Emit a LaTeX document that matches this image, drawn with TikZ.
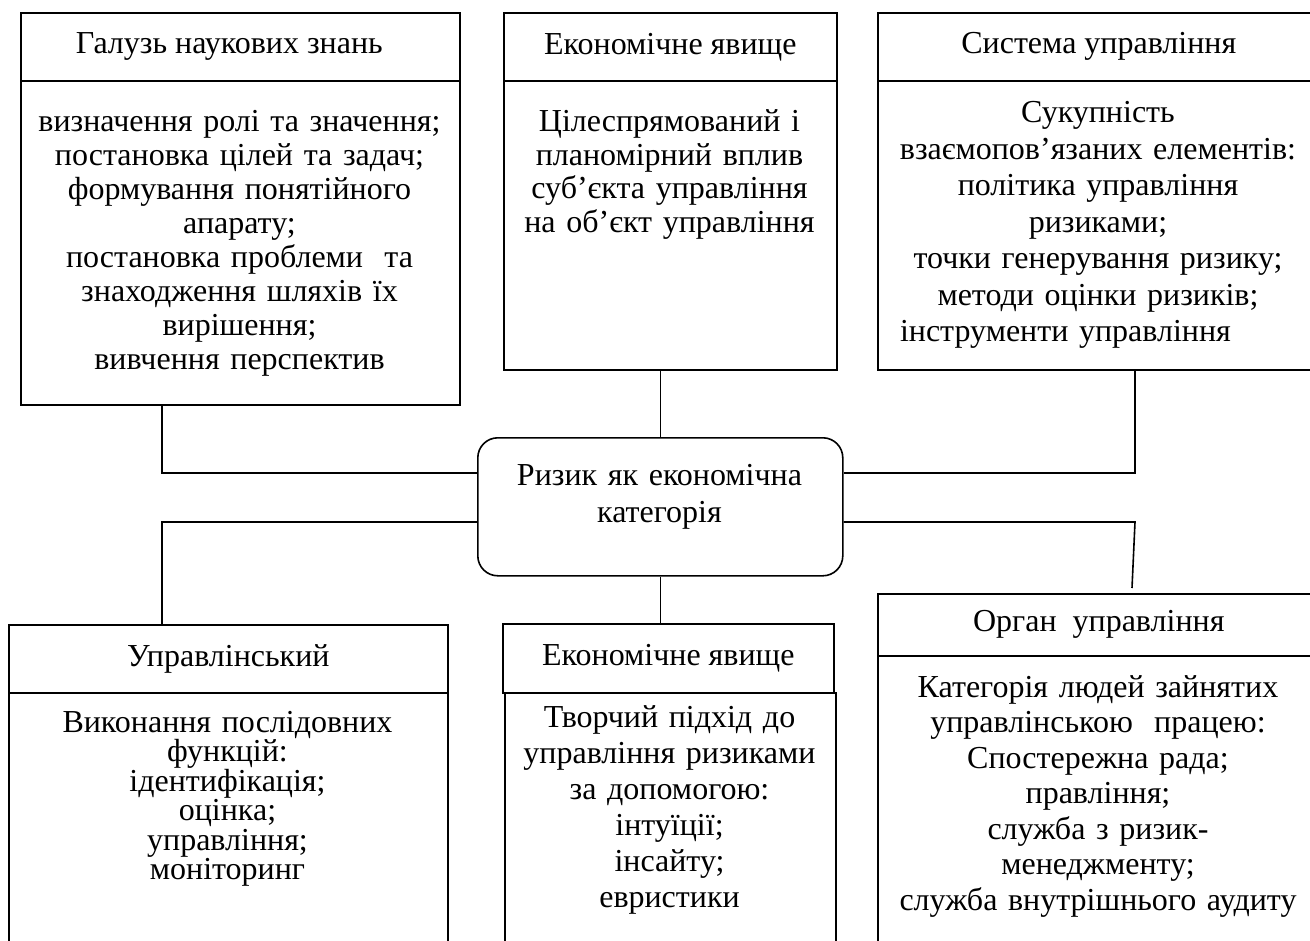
\documentclass[tikz,border=0pt]{standalone}
\usepackage{fontspec}
\setmainfont{Liberation Serif}

\begin{document}
\begin{tikzpicture}[x=1pt, y=-1pt, line width=1.6pt,
    frame/.style={draw, anchor=north west, inner sep=0pt},
    titlebox/.style={frame, font=\fontsize{32}{34}\selectfont},
    bodytext/.style={anchor=base, align=center, inner sep=0pt, text width=#1},
    lsep/.style={font=\fontsize{32}{#1}\selectfont}]
    \useasboundingbox (0,0) rectangle (1310,941);
    \clip (0,0) rectangle (1310,941);

    % upper row
    \node[titlebox, minimum width=439, minimum height=68] (galuz) at (20,12) {Галузь наукових знань\hspace*{22pt}};
    \node[frame, minimum width=439, minimum height=324] (galuzbody) at (20,80) {};
    \node[bodytext=432, lsep=34] (galuztext) at (239.5,132) {визначення ролі та значення;\\
        постановка цілей та задач;\\ формування понятійного\\ апарату;\\
        постановка проблеми~ та\\ знаходження шляхів їх\\ вирішення;\\ вивчення перспектив};

    \node[titlebox, minimum width=333, minimum height=68] (yav) at (503,12) {Економічне явище};
    \node[frame, minimum width=333, minimum height=289] (yavbody) at (503,80) {};
    \node[bodytext=328, lsep=33.5] (yavtext) at (669.5,132) {Цілеспрямований і\\ планомірний вплив\\
        суб’єкта управління\\ на об’єкт управління};

    \node[titlebox, minimum width=442, minimum height=68] (syst) at (877,12) {Система управління};
    \node[frame, minimum width=442, minimum height=289] (systbody) at (877,80) {};
    \node[bodytext=436, lsep=36.5] (systtext) at (1098,123) {Сукупність\\ взаємопов’язаних елементів:\\
        політика управління\\ ризиками;\\ точки генерування ризику;\\ методи оцінки ризиків;\\
        \makebox[396pt][l]{інструменти управління}};

    % centre
    \node[frame, rounded corners=20pt, minimum width=365, minimum height=138] (ryzyk) at (477,437) {};
    \node[bodytext=355, lsep=37] (ryzyktext) at (659.5,485) {Ризик як економічна\\ категорія};

    % lower row
    \node[titlebox, minimum width=439, minimum height=68] (upr) at (8,624) {Управлінський};
    \node[frame, minimum width=439, minimum height=300] (uprbody) at (8,692) {};
    \node[bodytext=432, lsep=29.5] (uprtext) at (227.5,732) {Виконання послідовних\\ функцій:\\
        ідентифікація;\\ оцінка;\\ управління;\\ моніторинг};

    \node[titlebox, minimum width=331, minimum height=69] (yav2) at (502,623) {Економічне явище};
    \node[frame, minimum width=331, minimum height=300] (yav2body) at (504,692) {};
    \node[bodytext=326, lsep=36] (yav2text) at (669.5,727) {Творчий підхід до\\ управління ризиками\\
        за допомогою:\\ інтуїції;\\ інсайту;\\ евристики};

    \node[titlebox, minimum width=442, minimum height=62] (organ) at (877,593) {Орган~ управління};
    \node[frame, minimum width=442, minimum height=300] (organbody) at (877,655) {};
    \node[bodytext=436, lsep=35.5] (organtext) at (1098,697) {Категорія людей зайнятих\\
        управлінською~ працею:\\ Спостережна рада;\\ правління;\\ служба з ризик-\\
        менеджменту;\\ служба внутрішнього аудиту};

    % connectors
    \coordinate (organend) at (1132,588);
    \draw (galuzbody.south -| 162,0) |- (ryzyk.west |- 0,473);
    \draw (ryzyk.north) -- (ryzyk.north |- yavbody.south);
    \draw (systbody.south -| 1135,0) |- (ryzyk.east |- 0,473);
    \draw (upr.north -| 162,0) |- (ryzyk.west |- 0,522);
    \draw (ryzyk.south) -- (ryzyk.south |- yav2.north);
    \draw (ryzyk.east |- 0,522) -- (1135,522) -- (organend);
\end{tikzpicture}
\end{document}
